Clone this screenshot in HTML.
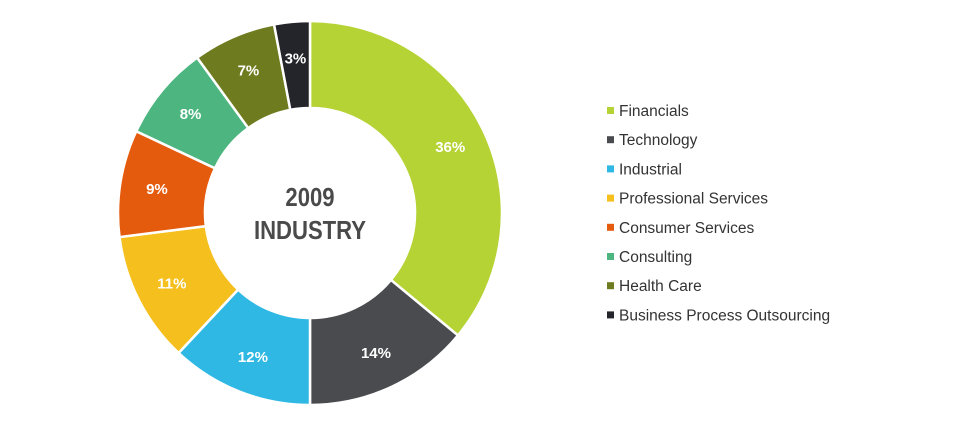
<!DOCTYPE html>
<html><head><meta charset="utf-8"><style>
body{margin:0;background:#fff;width:960px;height:430px;overflow:hidden;font-family:"Liberation Sans",sans-serif}
</style></head><body>
<svg width="960" height="430">
<g id="slices"></g>
<g id="labels"></g>
<text x="310" y="206" text-anchor="middle" font-size="26" font-weight="bold" fill="#4a4a4a" transform="translate(310 0) scale(0.85 1) translate(-310 0)">2009</text>
<text x="310" y="239" text-anchor="middle" font-size="26" font-weight="bold" fill="#4a4a4a" transform="translate(310 0) scale(0.85 1) translate(-310 0)">INDUSTRY</text>
<g id="legend"></g>
</svg>
<script>
const categories=["Financials","Technology","Industrial","Professional Services","Consumer Services","Consulting","Health Care","Business Process Outsourcing"];
const values=[36,14,12,11,9,8,7,3];
const colors=["#b5d334","#4a4b4f","#2fb8e4","#f5bf1e","#e55b0e","#4db580","#6e7b1e","#24252a"];
const NS="http://www.w3.org/2000/svg";
const cx=310,cy=213,R=192,r=105;
const total=values.reduce((a,b)=>a+b,0);
function pt(a,rad){return [cx+rad*Math.sin(a),cy-rad*Math.cos(a)];}
let acc=0;
const gs=document.getElementById('slices'),gl=document.getElementById('labels'),gg=document.getElementById('legend');
values.forEach((v,i)=>{
const a0=acc/total*2*Math.PI;acc+=v;const a1=acc/total*2*Math.PI;
const large=(a1-a0)>Math.PI?1:0;
const p0=pt(a0,R),p1=pt(a1,R),q1=pt(a1,r),q0=pt(a0,r);
const p=document.createElementNS(NS,'path');
p.setAttribute('d',`M${p0}A${R},${R} 0 ${large} 1 ${p1}L${q1}A${r},${r} 0 ${large} 0 ${q0}Z`);
p.setAttribute('fill',colors[i]);p.setAttribute('stroke','#fff');p.setAttribute('stroke-width','2.5');


gs.appendChild(p);
const m=pt((a0+a1)/2,155);
const t=document.createElementNS(NS,'text');
t.setAttribute('x',m[0]);t.setAttribute('y',m[1]+5);t.setAttribute('text-anchor','middle');
t.setAttribute('font-size','15');t.setAttribute('font-weight','bold');t.setAttribute('fill','#fff');
t.textContent=v+'%';


gl.appendChild(t);
const y=110+i*29.2;
const s=document.createElementNS(NS,'rect');
s.setAttribute('x',607);s.setAttribute('y',y-3);s.setAttribute('width',7);s.setAttribute('height',7);s.setAttribute('fill',colors[i]);


gg.appendChild(s);
const lt=document.createElementNS(NS,'text');
lt.setAttribute('x',619);lt.setAttribute('y',y+6);lt.setAttribute('font-size','15.5');lt.setAttribute('fill','#333');
lt.textContent=categories[i];


gg.appendChild(lt);
});
</script>
</body></html>
